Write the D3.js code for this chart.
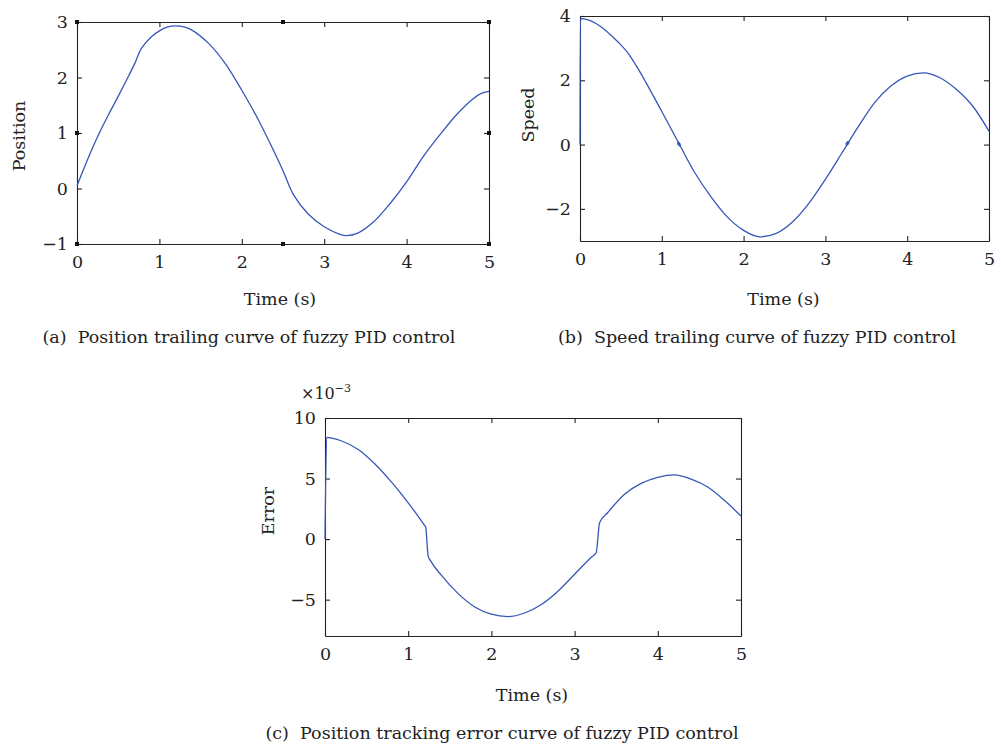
<!DOCTYPE html>
<meta charset='utf-8'>
<style>
html, body { margin: 0; padding: 0; background: #fff; }
svg { display: block; }
text { font-family: 'DejaVu Serif', 'Liberation Serif', serif; fill: #222; }
.tick text { font-size: 17.5px; font-family: 'DejaVu Serif', serif; }
.axis path, .axis line { stroke: #222; stroke-width: 1.1; }
.curve { fill: none; stroke: #3557b7; stroke-width: 1.3; }
</style>
<body>
<script src='https://cdn.jsdelivr.net/npm/d3@7/dist/d3.min.js'></script>
<script>

// ---- data ----
var xTicks = [0, 1, 2, 3, 4, 5];

// (a) position
var tPos   = [0, 0.1, 0.2, 0.3, 0.4, 0.5, 0.6, 0.7, 0.78, 0.9, 1.0, 1.1, 1.2, 1.3, 1.4, 1.6, 1.8, 2.0, 2.2, 2.4, 2.5, 2.63, 2.8, 3.0, 3.2, 3.27, 3.4, 3.6, 3.8, 4.0, 4.2, 4.4, 4.6, 4.8, 4.9, 5.0];
var posVal = [0.05, 0.42, 0.77, 1.09, 1.38, 1.66, 1.95, 2.25, 2.52, 2.73, 2.84, 2.91, 2.93, 2.91, 2.85, 2.61, 2.25, 1.77, 1.24, 0.64, 0.32, -0.12, -0.45, -0.69, -0.83, -0.85, -0.81, -0.6, -0.27, 0.12, 0.57, 0.96, 1.32, 1.61, 1.71, 1.75];
var posTicks = [-1, 0, 1, 2, 3];
var posHandlesX = [0, 2.5, 5];
var posHandlesY = [-1, 1, 3];

// (b) speed
var tSpd   = [0, 0.004, 0.1, 0.2, 0.3, 0.4, 0.5, 0.6, 0.7, 0.8, 0.9, 1.0, 1.2, 1.4, 1.6, 1.8, 2.0, 2.2, 2.4, 2.6, 2.8, 3.0, 3.2, 3.4, 3.6, 3.8, 4.0, 4.2, 4.4, 4.6, 4.8, 5.0];
var spdVal = [0, 3.92, 3.88, 3.76, 3.58, 3.35, 3.1, 2.8, 2.4, 1.96, 1.5, 1.03, 0.08, -0.86, -1.62, -2.25, -2.67, -2.87, -2.76, -2.4, -1.82, -1.08, -0.27, 0.55, 1.3, 1.82, 2.13, 2.23, 2.08, 1.72, 1.2, 0.42];
var spdBlipT = [1.21, 3.27];
var spdBlipV = [0.02, 0.04];
var spdTicks = [-2, 0, 2, 4];

// (c) tracking error (x 1e-3)
var tErr   = [0, 0.02, 0.2, 0.4, 0.6, 0.8, 1.0, 1.2, 1.21, 1.24, 1.27, 1.4, 1.6, 1.8, 2.0, 2.2, 2.4, 2.6, 2.8, 3.0, 3.2, 3.26, 3.3, 3.4, 3.6, 3.8, 4.0, 4.2, 4.4, 4.6, 4.8, 5.0];
var errVal = [0, 8.4, 8.1, 7.4, 6.2, 4.7, 3.0, 1.1, 1.0, -1.4, -1.8, -3.0, -4.5, -5.6, -6.2, -6.4, -6.1, -5.4, -4.3, -2.9, -1.5, -1.1, 1.35, 2.2, 3.7, 4.6, 5.1, 5.3, 4.95, 4.3, 3.2, 1.9];
var errTicks = [-5, 0, 5, 10];

var svg = d3.select('body').append('svg')
    .attr('width', 1001)
    .attr('height', 748);

function fmt(d) { return d < 0 ? '\u2212' + Math.abs(d) : String(d); }

function panel(cfg) {
  var x = d3.scaleLinear().domain([0, 5]).range([cfg.l, cfg.r]);
  var y = d3.scaleLinear().domain(cfg.yDom).range([cfg.b, cfg.t]);
  var g = svg.append('g');

  g.append('g').attr('class', 'axis')
    .attr('transform', 'translate(0,' + cfg.b + ')')
    .call(d3.axisBottom(x).tickValues(xTicks).tickSize(-5).tickSizeOuter(0).tickPadding(12).tickFormat(fmt));
  g.append('g').attr('class', 'axis')
    .attr('transform', 'translate(0,' + cfg.t + ')')
    .call(d3.axisTop(x).tickValues(xTicks).tickSize(-5).tickSizeOuter(0).tickFormat(''));
  g.append('g').attr('class', 'axis')
    .attr('transform', 'translate(' + cfg.l + ',0)')
    .call(d3.axisLeft(y).tickValues(cfg.yTicks).tickSize(-5).tickSizeOuter(0).tickPadding(9).tickFormat(fmt));
  g.append('g').attr('class', 'axis')
    .attr('transform', 'translate(' + cfg.r + ',0)')
    .call(d3.axisRight(y).tickValues(cfg.yTicks).tickSize(-5).tickSizeOuter(0).tickFormat(''));

  var pts = cfg.ts.map(function(t, i){ return [t, cfg.vs[i]]; });
  g.append('path')
    .attr('class', 'curve')
    .attr('d', d3.line().x(function(d){ return x(d[0]); }).y(function(d){ return y(d[1]); })
      .curve(cfg.curve)(pts));

  g.append('text').attr('x', (cfg.l + cfg.r) / 2 + cfg.tdx).attr('y', cfg.tY)
    .attr('text-anchor', 'middle').style('font-size', '17.5px').text('Time (s)');
  g.append('text')
    .attr('transform', 'translate(' + cfg.ylX + ',' + cfg.ylY + ') rotate(-90)')
    .attr('text-anchor', 'middle').style('font-size', '17.5px').text(cfg.yLabel);
  g.append('text').attr('x', cfg.capX).attr('y', cfg.capY)
    .attr('text-anchor', 'middle').style('font-size', '17.5px')
    .attr('xml:space', 'preserve').text(cfg.caption);
  return {x: x, y: y, g: g};
}

var pa = panel({l: 77, r: 489, t: 22, b: 244, yDom: [-1, 3], yTicks: posTicks,
  ts: tPos, vs: posVal, curve: d3.curveCatmullRom.alpha(0.5),
  yLabel: 'Position', ylX: 25, ylY: 136, tdx: -3, tY: 305,
  caption: '(a)  Position trailing curve of fuzzy PID control', capX: 249, capY: 343});

// small square handles on panel (a)
posHandlesX.forEach(function(v){
  [-1, 3].forEach(function(w){
    pa.g.append('rect').attr('x', pa.x(v) - 2).attr('y', pa.y(w) - 2)
      .attr('width', 4).attr('height', 4).attr('fill', '#111');
  });
});
posHandlesY.forEach(function(w){
  [0, 5].forEach(function(v){
    pa.g.append('rect').attr('x', pa.x(v) - 2).attr('y', pa.y(w) - 2)
      .attr('width', 4).attr('height', 4).attr('fill', '#111');
  });
});

var pb = panel({l: 580, r: 989, t: 16, b: 241, yDom: [-3, 4], yTicks: spdTicks,
  ts: tSpd, vs: spdVal, curve: d3.curveMonotoneX,
  yLabel: 'Speed', ylX: 534, ylY: 115, tdx: -1, tY: 305,
  caption: '(b)  Speed trailing curve of fuzzy PID control', capX: 757, capY: 343});

// tiny arrow-like blips where the speed crosses zero
spdBlipT.forEach(function(t, i){
  pb.g.append('ellipse')
    .attr('cx', pb.x(t)).attr('cy', pb.y(spdBlipV[i]))
    .attr('rx', 1.6).attr('ry', 2.6)
    .attr('transform', 'rotate(' + (i ? 35 : -30) + ',' + pb.x(t) + ',' + pb.y(spdBlipV[i]) + ')')
    .attr('fill', '#3557b7');
});

panel({l: 325, r: 741, t: 418, b: 636, yDom: [-8, 10], yTicks: errTicks,
  ts: tErr, vs: errVal, curve: d3.curveMonotoneX,
  yLabel: 'Error', ylX: 274, ylY: 511, tdx: -1, tY: 701,
  caption: '(c)  Position tracking error curve of fuzzy PID control', capX: 502, capY: 739});

// exponent label
var ex = svg.append('text').attr('x', 301).attr('y', 399).style('font-size', '16px');
ex.append('tspan').text('\u00d710');
ex.append('tspan').attr('dy', -7).style('font-size', '11px').text('\u22123');

</script>
</body>
